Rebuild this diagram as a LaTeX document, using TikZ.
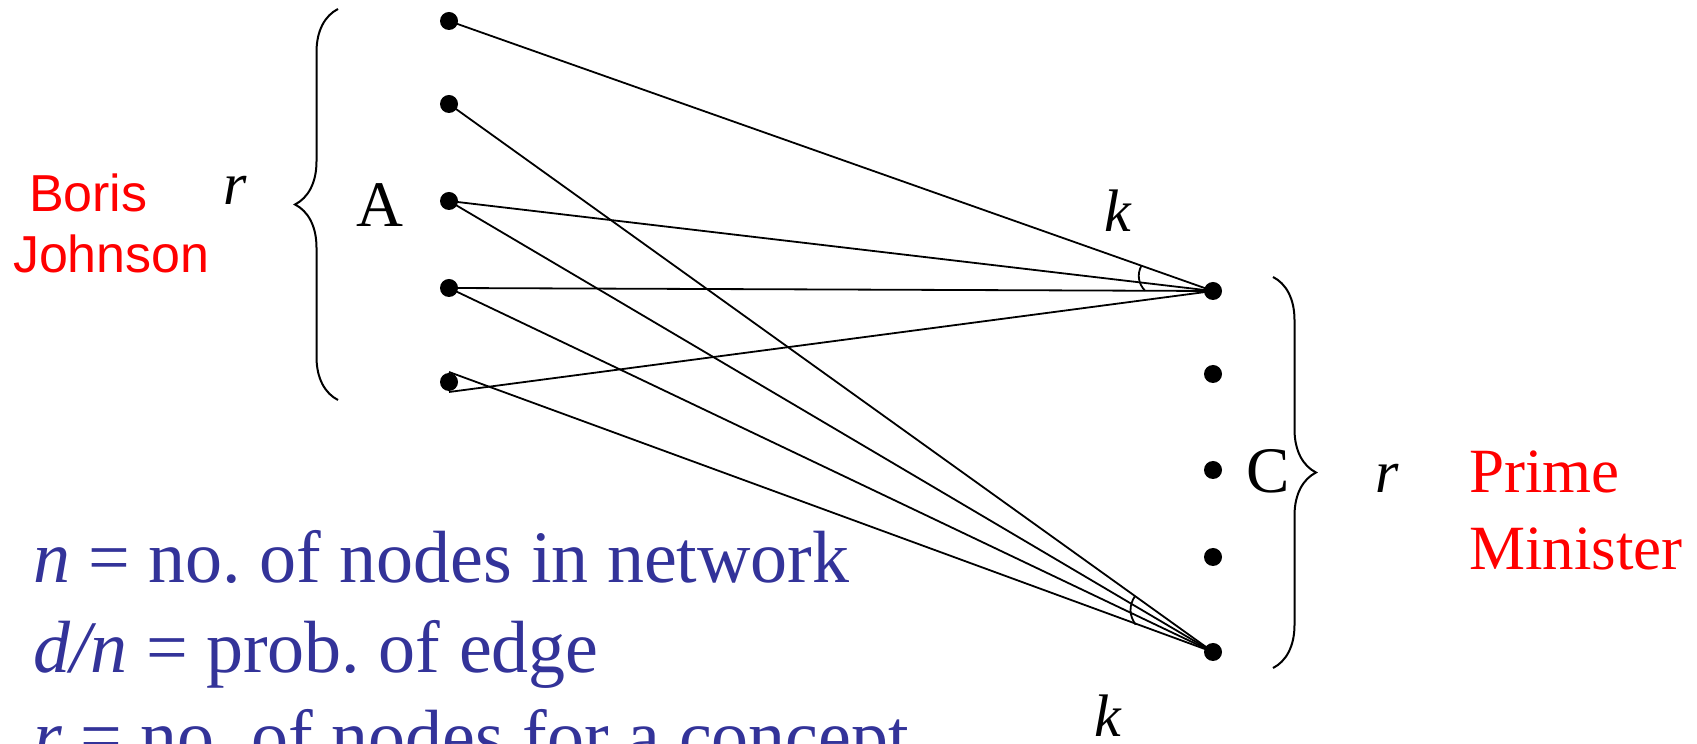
\documentclass[tikz,border=0pt]{standalone}
\usepackage{fontspec}
\setmainfont{Liberation Serif}
\newfontfamily\arialfont{Liberation Sans}
\usetikzlibrary{calc, decorations.pathreplacing}
\definecolor{slideblue}{RGB}{51,51,153}
\definecolor{slidered}{RGB}{255,0,0}
\frenchspacing

\begin{document}
\begin{tikzpicture}[x=0.5pt, y=0.5pt, line width=1pt]
  \tikzstyle{vertex} = [circle, fill=black, inner sep=0pt, minimum size=9pt]
  \tikzstyle{link} = [line width=0.9pt]
  \tikzstyle{lbl} = [inner sep=0pt, anchor=base, font=\fontsize{32.5}{39}\selectfont]
  \tikzstyle{var} = [inner sep=0pt, anchor=base, font=\fontsize{30}{36}\selectfont\itshape]
  \tikzstyle{who} = [inner sep=0pt, anchor=base west, text=slidered]
  \tikzstyle{defn} = [inner sep=0pt, anchor=base west, text=slideblue, font=\fontsize{37}{44}\selectfont]
  \tikzstyle{curly} = [decorate, decoration={brace, amplitude=21.5pt, aspect=0.5}]

  \useasboundingbox (0,0) rectangle (1697,744);

  % group A and group C
  \foreach \i/\y in {1/723, 2/640, 3/543, 4/456, 5/362}
    \node [vertex] (a\i) at (449,\y) {};
  \foreach \i/\y in {1/453, 2/370, 3/274, 4/187, 5/92}
    \node [vertex] (c\i) at (1213,\y) {};

  \foreach \i in {1,3,4}
    \draw [link] (a\i.center) -- (c1.center);
  \draw [link] (a5.south) -- (c1.center);
  \foreach \i in {2,3,4}
    \draw [link] (a\i.center) -- (c5.center);
  \draw [link] (a5.north) -- (c5.center);

  % angle marks
  \draw [link] ($(c1)!38pt!(a1)$) to[bend right=35] ($(c1)!34pt!(a4)$);
  \draw [link] ($(c5)!48pt!(a2)$) to[bend right=35] ($(c5)!41pt!(a5)$);

  % braces
  \coordinate (abot) at (338,344);
  \coordinate (atop) at (338,735);
  \coordinate (ctop) at (1273,467);
  \coordinate (cbot) at (1273,76);
  \draw [curly] (abot) -- (atop);
  \draw [curly] (ctop) -- (cbot);

  \node [var] (ra) at (235,539) {r};
  \node [lbl] (A) at (380,517) {A};
  \node [lbl] (C) at (1268,251) {C};
  \node [var] (rc) at (1387,251) {r};
  \node [var] (ktop) at (1118,512) {k};
  \node [var] (kbot) at (1108,7) {k};

  \node [who, font=\arialfont\fontsize{26}{31}\selectfont] (boris) at (28,532) {Boris};
  \node [who, font=\arialfont\fontsize{26}{31}\selectfont] (johnson) at (12,471) {Johnson};
  \node [who, font=\fontsize{31.5}{38}\selectfont] (prime) at (1468,251) {Prime};
  \node [who, font=\fontsize{31.5}{38}\selectfont] (minister) at (1468,174) {Minister};

  \node [defn] (defn) at (32,161) {\textit{n} = no. of nodes in network};
  \node [defn] (defd) at (32,71) {\textit{d/n} = prob. of edge};
  \node [defn] (defr) at (32,-18) {\textit{r} = no. of nodes for a concept};
\end{tikzpicture}
\end{document}
